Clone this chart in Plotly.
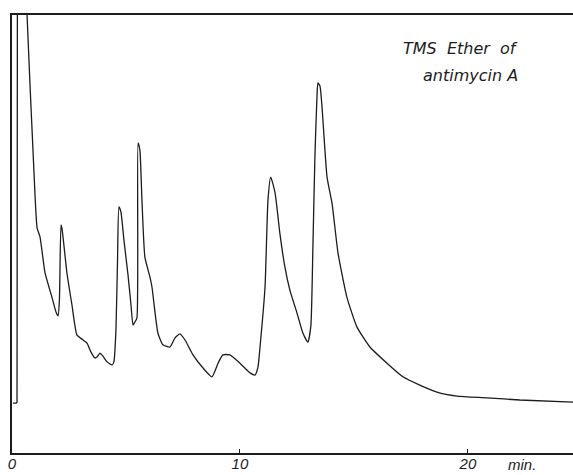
import plotly.graph_objects as go

# Retention time (min) and detector response (arbitrary units, 0-100 = full chart height)
t_min = [0.04, 0.18, 0.22, 0.40, 0.66, 0.79, 0.92, 1.01, 1.10, 1.23, 1.45, 1.75, 1.93, 2.02,
         2.08, 2.15, 2.19, 2.41, 2.63, 2.85, 3.07, 3.29, 3.46, 3.64, 3.73, 3.86, 3.99, 4.17,
         4.39, 4.47, 4.56, 4.63, 4.69, 4.78, 4.91, 5.09, 5.22, 5.31, 5.39, 5.48, 5.53, 5.61,
         5.70, 5.83, 6.05, 6.14, 6.40, 6.62, 6.93, 7.15, 7.37, 7.59, 7.94, 8.38, 8.77, 9.04,
         9.25, 9.56, 10.00, 10.44, 10.66, 10.79, 10.88, 11.10, 11.23, 11.35, 11.54, 11.75,
         11.97, 12.19, 12.50, 12.76, 12.98, 13.11, 13.20, 13.29, 13.38, 13.42, 13.51, 13.60,
         13.82, 14.04, 14.30, 14.69, 15.13, 15.70, 16.45, 17.15, 17.89, 18.64, 19.52, 20.83,
         22.28, 24.61]
signal = [11.4, 11.4, 11.6, 1000, 100, 84.0, 69.2, 58.9, 51.4, 49.3, 41.1, 35.6, 32.2, 31.3,
          34.9, 52.1, 51.4, 41.1, 33.8, 26.9, 26.0, 25.1, 23.1, 21.7, 21.9, 22.8, 22.1, 20.8,
          20.1, 20.8, 28.1, 44.1, 56.2, 55.0, 48.6, 40.6, 33.8, 29.2, 29.9, 30.8, 70.8, 69.2,
          57.8, 44.7, 40.2, 37.9, 27.4, 24.7, 24.2, 26.3, 27.2, 25.8, 22.4, 19.4, 17.4, 20.5,
          22.4, 22.4, 20.5, 18.3, 17.8, 19.6, 24.2, 37.9, 57.8, 63.0, 59.4, 50.2,
          42.5, 37.2, 32.0, 27.4, 25.3, 29.0, 47.0, 68.0, 81.5, 84.5, 83.8, 79.0,
          63.0, 57.0, 45.7, 35.6, 28.8, 24.2, 20.5, 17.4, 15.5, 13.9, 13.0, 12.6,
          12.1, 11.6]

# the solvent front goes off scale; draw it straight, the rest smoothed
n_solvent = 5

tick_vals = [0, 10, 20]
tick_text = ["0", "10", "20"]
x_range = [0, 24.61]
y_range = [0, 100]

ink = "#1c1c1c"
font_family = "Liberation Sans, Arial, sans-serif"
label_family = "DejaVu Sans, Liberation Sans, sans-serif"

fig = go.Figure()
fig.add_trace(go.Scatter(x=t_min[:n_solvent], y=signal[:n_solvent], mode="lines",
                         line=dict(color=ink, width=1.3), hoverinfo="skip",
                         showlegend=False))
fig.add_trace(go.Scatter(x=t_min[n_solvent - 1:], y=signal[n_solvent - 1:], mode="lines",
                         line=dict(color=ink, width=1.3, shape="spline", smoothing=0.5),
                         hoverinfo="skip", showlegend=False))

fig.update_layout(
    width=573, height=475,
    margin=dict(l=12, r=0, t=15, b=22),
    paper_bgcolor="white", plot_bgcolor="white",
    xaxis=dict(range=x_range, showline=True, linecolor=ink, linewidth=1.5, mirror=True,
               ticks="inside", ticklen=4, tickcolor=ink, tickwidth=1,
               tickvals=tick_vals, ticktext=tick_text, showgrid=False, zeroline=False,
               ticklabelstandoff=-4, automargin=False,
               tickfont=dict(family=font_family, size=15, color=ink, style="italic")),
    yaxis=dict(range=y_range, showline=True, linecolor=ink, linewidth=1.5, mirror=False,
               ticks="", showticklabels=False, showgrid=False, zeroline=False,
               automargin=False),
    annotations=[
        dict(text="TMS  Ether  of", xref="paper", yref="paper", x=0.906, y=0.9226,
             xanchor="right", yanchor="middle", showarrow=False,
             font=dict(family=label_family, size=16, color=ink, style="italic")),
        dict(text="antimycin A", xref="paper", yref="paper", x=0.906, y=0.861,
             xanchor="right", yanchor="middle", showarrow=False,
             font=dict(family=label_family, size=16, color=ink, style="italic")),
        dict(text="min.", xref="x", yref="paper", x=22.37, y=0, yshift=-1,
             xanchor="center", yanchor="top", showarrow=False,
             font=dict(family=font_family, size=15, color=ink, style="italic")),
    ],
)

fig.write_html("out.html", post_script="document.body.style.margin='0';",
               config={"displayModeBar": False})
